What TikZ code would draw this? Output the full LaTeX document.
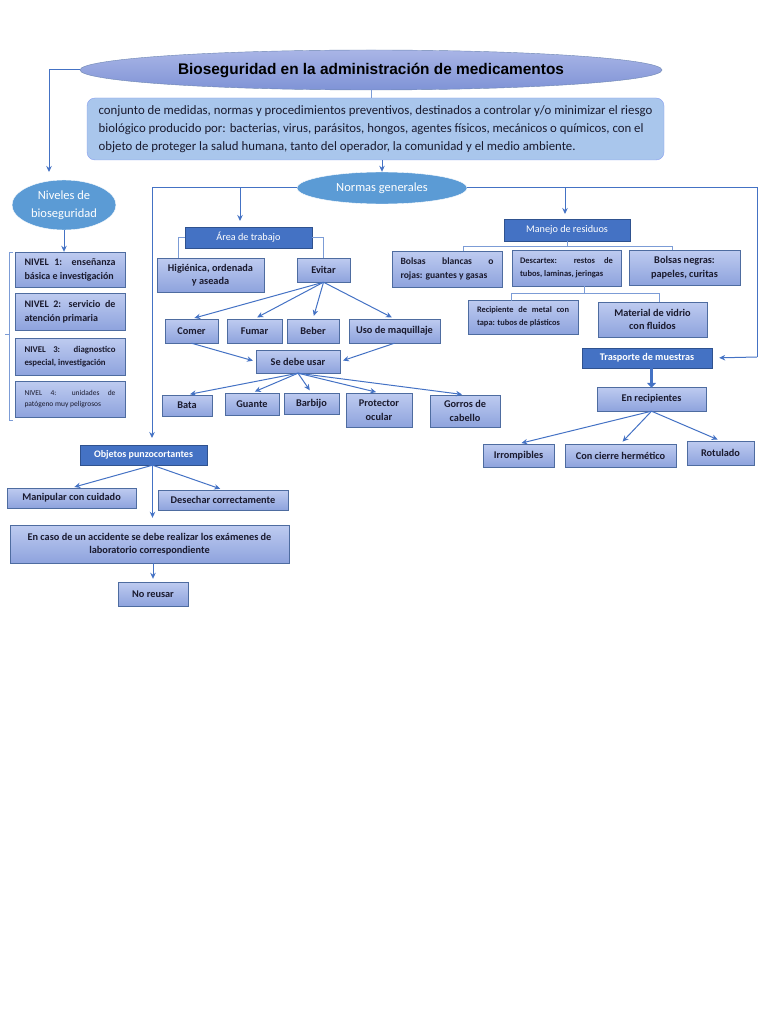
\documentclass[tikz,border=0pt]{standalone}
\usepackage{fontspec}
\setmainfont{Carlito}
\newfontfamily\titlefont{Liberation Sans}
\usetikzlibrary{shapes.geometric,arrows.meta,positioning}
\definecolor{darkbox}{HTML}{4472C4}
\definecolor{darkedge}{HTML}{2F528F}
\definecolor{lighttop}{HTML}{BECBF0}
\definecolor{lightbot}{HTML}{8EA3DD}
\definecolor{ovalblue}{HTML}{5B9BD5}
\definecolor{ovtop}{HTML}{A9B5E6}
\definecolor{ovbot}{HTML}{7F93D6}
\definecolor{defblue}{HTML}{A9C6EC}
\definecolor{linkblue}{HTML}{4472C4}
\definecolor{textdark}{HTML}{1A1A2E}
\def\Fsize#1#2{\fontsize{#1}{#2}\selectfont}

\begin{document}
\begin{tikzpicture}[% 1pt per pixel of the reference, y grows downwards
      x=1pt,y=-1pt,
      every node/.style={
        align=center,   % so that "\\" breaks lines
        inner sep=2pt,
        text=textdark
      },
      sz/.style 2 args={minimum width=#1,minimum height=#2},
      lbox/.style={rectangle,draw=darkedge!85,top color=lighttop,bottom color=lightbot,
        font=\Fsize{10.3}{13.5}\bfseries},
      jbox/.style={lbox,text width=#1,align=justify,inner xsep=0pt},
      dbox/.style={rectangle,draw=darkedge,fill=darkbox,text=white,font=\Fsize{10.2}{12}},
      oval/.style={ellipse,fill=ovalblue,draw=white,text=white,inner sep=0pt},
      every edge/.style={draw=linkblue,line width=1pt,shorten >=3pt},
      flow/.style={draw=linkblue,line width=1pt},
      link/.style={draw=linkblue!70,line width=0.6pt},
      >={Stealth[length=6pt,width=5.5pt]}
    ]
    \useasboundingbox (0,0) rectangle (768,1024);

    % top
    \node[ellipse,sz={582pt}{40pt},inner sep=0pt,draw=darkedge!70,top color=ovtop,bottom color=ovbot,
      text=black,font=\titlefont\bfseries\Fsize{15.4}{18}](T) at (371,70)
      {Bioseguridad en la administración de medicamentos};
    \node[rectangle,rounded corners=8pt,sz={577pt}{62pt},fill=defblue,draw=defblue!80!blue,
      align=left,font=\Fsize{12.8}{18}](D) at (375.5,129)
      {conjunto de medidas, normas y procedimientos preventivos, destinados a controlar y/o minimizar el riesgo\\
       biológico producido por: bacterias, virus, parásitos, hongos, agentes físicos, mecánicos o químicos, con el\\
       objeto de proteger la salud humana, tanto del operador, la comunidad y el medio ambiente.};
    \node[oval,sz={104pt}{50pt},font=\Fsize{12.5}{18}](NB) at (64,205) {Niveles de\\bioseguridad};
    \node[oval,sz={170pt}{32pt},font=\Fsize{12.5}{14}](NG) at (382,188) {Normas generales};

    % niveles
    \node[jbox=91pt,sz={110pt}{35pt},font=\Fsize{10}{14}\bfseries](N1) at (70,269.5) {NIVEL 1: enseñanza\linebreak básica e investigación};
    \node[jbox=91pt,sz={110pt}{37pt},font=\Fsize{10}{14}\bfseries](N2) at (70,311.5) {NIVEL 2: servicio de\linebreak atención primaria};
    \node[jbox=91pt,sz={110pt}{37pt},font=\Fsize{8.8}{13}\bfseries](N3) at (70,356.5) {NIVEL 3: diagnostico\linebreak especial, investigación};
    \node[jbox=91pt,sz={110pt}{36pt},font=\Fsize{7.5}{11}](N4) at (70,399) {NIVEL 4: unidades de\linebreak patógeno muy peligrosos};

    % area de trabajo
    \node[dbox,sz={127pt}{21pt}](AT) at (248.5,237.5) {Área de trabajo};
    \node[lbox,sz={107pt}{34pt}](HI) at (210.5,275) {Higiénica, ordenada\\y aseada};
    \node[lbox,sz={53pt}{24pt}](EV) at (323.5,270) {Evitar};
    \node[lbox,sz={53pt}{24pt}](CO) at (191.5,331) {Comer};
    \node[lbox,sz={55pt}{24pt}](FU) at (254.5,331) {Fumar};
    \node[lbox,sz={52pt}{24pt}](BE) at (313,331) {Beber};
    \node[lbox,sz={91pt}{24pt}](UM) at (394.5,331) {Uso de maquillaje};
    \node[lbox,sz={84pt}{23pt}](SU) at (298,361.5) {Se debe usar};
    \node[lbox,sz={50pt}{21pt}](BA) at (187,405.5) {Bata};
    \node[lbox,sz={54pt}{22pt}](GU) at (252,404) {Guante};
    \node[lbox,sz={55pt}{21pt}](BB) at (311.5,403.5) {Barbijo};
    \node[lbox,sz={66pt}{34pt}](PO) at (379,410) {Protector\\ocular};
    \node[lbox,sz={70pt}{32pt}](GC) at (465,411) {Gorros de\\cabello};

    % manejo de residuos
    \node[dbox,sz={126pt}{22pt}](MR) at (567,230) {Manejo de residuos};
    \node[jbox=93pt,sz={110pt}{36pt},font=\Fsize{9.6}{14}\bfseries](BL) at (447,269) {Bolsas blancas o\linebreak rojas: guantes y gasas};
    \node[jbox=93pt,sz={109pt}{36pt},font=\Fsize{8.5}{13}\bfseries](DX) at (566.5,268) {Descartex: restos de\linebreak tubos, laminas, jeringas};
    \node[lbox,sz={111pt}{35pt}](BN) at (684.5,267.5) {Bolsas negras:\\papeles, curitas};
    \node[jbox=92pt,sz={110pt}{34pt},font=\Fsize{8.4}{13}\bfseries](RM) at (523,317) {Recipiente de metal con\linebreak tapa: tubos de plásticos};
    \node[lbox,sz={109pt}{35pt}](MV) at (652.5,319.5) {Material de vidrio\\con fluidos};

    % trasporte de muestras
    \node[dbox,sz={130pt}{20pt},font=\Fsize{10.2}{12}\bfseries](TM) at (647,358) {Trasporte de muestras};
    \node[lbox,sz={109pt}{24pt}](ER) at (651.5,399) {En recipientes};
    \node[lbox,sz={71pt}{23pt}](IR) at (518.5,455.5) {Irrompibles};
    \node[lbox,sz={111pt}{23pt}](CH) at (620.5,455.5) {Con cierre hermético};
    \node[lbox,sz={67pt}{24pt}](RO) at (720.5,453) {Rotulado};

    % objetos punzocortantes
    \node[dbox,sz={127pt}{20pt},font=\Fsize{10}{12}\bfseries](OP) at (143.5,455) {Objetos punzocortantes};
    \node[lbox,sz={129pt}{20pt}](MC) at (71.5,498) {Manipular con cuidado};
    \node[lbox,sz={130pt}{20pt}](DC) at (223,500) {Desechar correctamente};
    \node[lbox,sz={279pt}{38pt}](EC) at (149.5,544) {En caso de un accidente se debe realizar los exámenes de\\laboratorio correspondiente};
    \node[lbox,sz={70pt}{24pt}](NR) at (153,594) {No reusar};

    % free ends of the elbow lines
    \coordinate (c1) at (49,172);
    \coordinate (c2) at (152,438);
    \coordinate (c3) at (240,221);
    \coordinate (c4) at (565,214);
    \coordinate (c5) at (757,357);
    \coordinate (c6) at (178,258);
    \coordinate (c7) at (463,251);
    \coordinate (c8) at (672,250);
    \coordinate (c9) at (511,301);
    \coordinate (c10) at (659,302);

    % connectors
    \draw[flow,->] (T.west) -| (c1);
    \draw[link] (T.south) -- (T.south |- D.north);
    \draw[flow,->] (NG.north |- D.south) -- (NG.north);
    \draw[flow,->] (NG.west) -| (c2);
    \draw[flow,->] (NG.west -| c3) -- (c3);
    \draw[flow] (NG.east) -| (c5);
    \draw[flow,->,shorten >=7pt] (c5) -- (TM.east);
    \draw[flow,->] (NG.east -| c4) -- (c4);
    \draw[flow,->] (NB.south) -- (NB.south |- N1.north);
    \draw[link] (13,252) -- (9,252) -- (9,420) -- (13,420) (9,334) -- (5,334);

    \draw[link] (AT.west) -| (c6);
    \draw[link] (AT.east) -| (EV.north);
    \path[->]
    (EV.south) edge (CO.north)
    (EV.south) edge (FU.north)
    (EV.south) edge (BE.north)
    (EV.south) edge (UM.north)
    (CO.south) edge (SU.west)
    (UM.south) edge (SU.east)
    (SU.south) edge (BA.north)
    (SU.south) edge (GU.north)
    (SU.south) edge (BB.north)
    (SU.south) edge (PO.north)
    (SU.south) edge (GC.north)
    ;

    \draw[link] (MR.south) -- ++(0,5);
    \draw[link] (c7) -- ++(0,-5) -| (c8);
    \draw[link] ([xshift=18pt]DX.south) -- ++(0,7);
    \draw[link] (c9) -- ++(0,-8) -| (c10);

    \draw[draw=linkblue,line width=3pt,-{Triangle[length=5pt,width=9pt]}]
      ([yshift=4pt]TM.south -| ER.north) -- ([yshift=-1pt]ER.north);
    \path[->]
    (ER.south) edge (IR.north)
    (ER.south) edge (CH.north)
    (ER.south) edge (RO.north)
    ([xshift=9pt]OP.south) edge (MC.north)
    ([xshift=9pt]OP.south) edge (DC.north)
    ([xshift=9pt]OP.south) edge[shorten >=7pt] ([xshift=9pt]OP.south |- EC.north)
    (NR.north |- EC.south) edge (NR.north)
    ;
  \end{tikzpicture}
\end{document}
